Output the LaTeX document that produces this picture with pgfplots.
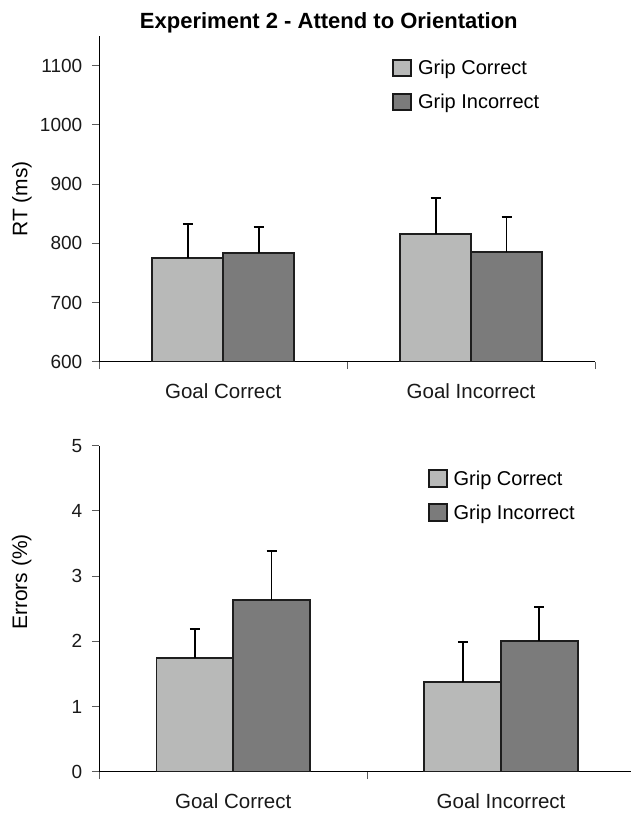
\documentclass[border=0pt]{standalone}
\usepackage{fontspec}
\setmainfont{Liberation Sans}
\usepackage{pgfplots}
\pgfplotsset{compat=1.18}
\definecolor{lightbar}{RGB}{184,185,184}
\definecolor{darkbar}{RGB}{123,123,123}
\definecolor{barborder}{RGB}{30,30,30}
\definecolor{tickgray}{RGB}{90,90,90}
\pgfplotsset{
  mybase/.style={
    scale only axis,
    anchor=south west,
    axis x line=bottom, axis y line=left,
    axis line style={-, black, line width=0.9pt},
    tick align=outside,
    major tick length=7.5pt,
    tick style={tickgray, line width=0.9pt},
    xmin=0,
    xtick={0,1,2}, xticklabels={},
    extra x ticks={0.5,1.5},
    extra x tick labels={Goal Correct, Goal Incorrect},
    extra x tick style={major tick length=0pt, tick style={draw=none}},
    xticklabel style={font=\fontsize{20.5}{24}\selectfont, text=black!90, yshift=-18pt},
    yticklabel style={font=\fontsize{19}{23}\selectfont, text=black!90, xshift=-6pt},
    /pgf/number format/assume math mode=true,
    /pgf/number format/1000 sep={},
    bar width=0.287,
    legend cell align=left,
    legend style={draw=none, fill=none, inner sep=0pt, row sep=14pt,
      font=\fontsize{20}{24}\selectfont, nodes={inner sep=2pt}},
    legend image code/.code={\draw[#1, draw=black!90, line width=2.2pt] (0pt,-8pt) rectangle (18pt,8.5pt);
      \path[draw=none, fill=none, line width=0pt] (0pt,0pt) -- (23pt,0pt);},
    clip=true,
  },
  lightstyle/.style={ybar, bar shift=0pt, fill=lightbar, draw=barborder, line width=1.8pt,
    error bars/.cd, y dir=plus, y explicit,
    error bar style={line width=1.8pt, black},
    error mark options={rotate=90, mark size=5pt, line width=1.8pt, black}},
  darkstyle/.style={ybar, bar shift=0pt, fill=darkbar, draw=barborder, line width=1.8pt,
    error bars/.cd, y dir=plus, y explicit,
    error bar style={line width=1.8pt, black},
    error mark options={rotate=90, mark size=5pt, line width=1.8pt, black}},
}
\begin{document}
\begin{tikzpicture}
\path[use as bounding box] (0pt,0pt) rectangle (631pt,813pt);
% ---------- Top panel: RT ----------
\begin{axis}[mybase,
  at={(99.3pt,451.3pt)},
  width=495.7pt, height=325.7pt,
  xmax=2,
  ymin=600, ymax=1150,
  ytick={600,700,800,900,1000,1100},
  title={Experiment 2 - Attend to Orientation},
  title style={at={(axis description cs:0.463,1.021)}, anchor=center,
    font=\bfseries\fontsize{22}{26}\selectfont},
  ylabel={RT (ms)},
  every axis y label/.style={at={(axis description cs:-0.156,0.5)}, rotate=90, anchor=center,
    font=\fontsize{21}{25}\selectfont},
  legend style={at={(axis description cs:0.59,0.932)}, anchor=north west},
]
\addplot[lightstyle] coordinates {(0.357,775) +- (0,58) (1.357,816) +- (0,61)};
\addplot[darkstyle] coordinates {(0.643,783) +- (0,44) (1.643,785) +- (0,59)};
\legend{Grip Correct, Grip Incorrect}
\end{axis}
% ---------- Bottom panel: Errors ----------
\begin{axis}[mybase,
  at={(99.3pt,41.3pt)},
  width=531.7pt, height=326pt,
  xmax=1.985,
  ymin=0, ymax=5,
  ytick={0,1,2,3,4,5},
  ylabel={Errors (\%)},
  every axis y label/.style={at={(axis description cs:-0.146,0.582)}, rotate=90, anchor=center,
    font=\fontsize{21}{25}\selectfont},
  legend style={at={(axis description cs:0.617,0.93)}, anchor=north west},
]
\addplot[lightstyle] coordinates {(0.357,1.74) +- (0,0.45) (1.357,1.37) +- (0,0.62)};
\addplot[darkstyle] coordinates {(0.643,2.63) +- (0,0.75) (1.643,2.01) +- (0,0.51)};
\legend{Grip Correct, Grip Incorrect}
\end{axis}
\end{tikzpicture}
\end{document}
